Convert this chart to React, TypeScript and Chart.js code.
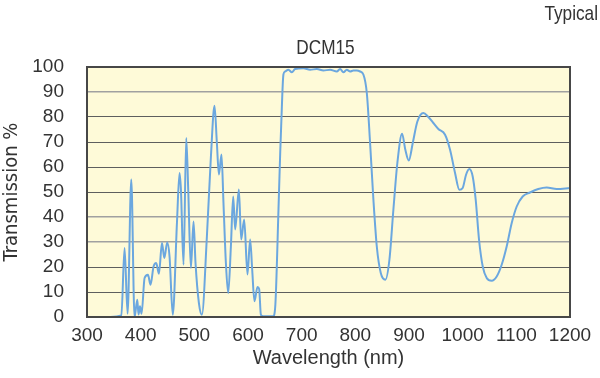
import React, { useEffect, useRef } from "react";
import { Chart, registerables } from "chart.js";

Chart.register(...registerables);

const TITLE = "DCM15";
const NOTE = "Typical";
const X_LABEL = "Wavelength (nm)";
const Y_LABEL = "Transmission %";

const X_MIN = 300;
const X_MAX = 1200;
const X_STEP = 100;
const Y_MIN = 0;
const Y_MAX = 100;
const Y_STEP = 10;
const LIGHT_GRID_VALUES = [90, 40, 30];

const wavelengths = [
  343, 364, 370, 375.6, 382.5, 388.6, 393.7, 396, 398.7, 401.7, 407.3, 413.6,
  418.4, 424, 429, 434, 439.7, 444, 449.5, 453.8, 459.8, 467.6, 472.4, 475,
  479.9, 484.9, 488.6, 493.6, 498.5, 502.2, 508.5, 514.1, 523.4, 530.9, 537.6,
  542, 545.8, 550.6, 554.3, 558.8, 563.1, 568.1, 572.4, 576.1, 583, 587.3,
  592.9, 599, 604, 607.8, 612, 617.7, 620.8, 624, 628.3, 646.9, 651, 656.8,
  660, 661.8, 666, 669, 675.4, 681.7, 687.9, 703.3, 715.8, 728.3, 740.6, 753,
  765.5, 771.6, 777.8, 784.1, 790.3, 796.4, 802.7, 808.9, 815, 821.4, 827.5,
  833.7, 840, 847.4, 856, 863.5, 870.9, 878.3, 887.1, 893.2, 899.6, 907,
  915.6, 926.8, 936, 945.4, 954.7, 967.2, 976.5, 985.8, 993.8, 1000, 1006.3,
  1012.4, 1018.7, 1024.3, 1030.5, 1037.4, 1044.8, 1054.1, 1063.4, 1072.7, 1082,
  1091.4, 1100.7, 1111.8, 1125.4, 1140.9, 1156.5, 1175.1, 1200,
];

const transmission = [
  0, 0.6, 27.6, 1.3, 55, 0, 6.9, 1, 4.3, 1.3, 15.6, 16.9,
  12.9, 20.2, 21.6, 17.3, 29.6, 23.6, 29.8, 24.2, 0.9, 37.6, 57.6, 51,
  20.9, 71.6, 51, 19.6, 38.2, 21.6, 5.6, 0.9, 32.2, 64.2, 84.5,
  69.6, 57, 65, 45.6, 21.6, 9.6, 28.2, 48.2, 35, 51, 31,
  39, 17, 31, 19, 6.3, 12, 11.2, 0.9, 0.3, 0.3, 5, 43,
  65.6, 76.3, 97, 98.2, 98.9, 97.9, 99.2, 99.5, 98.9, 99.2, 98.6, 98.9,
  98.2, 99.2, 97.9, 98.9, 98.2, 98.6, 98.6, 98.2, 97, 89.6, 69.6,
  46.9, 28.2, 17.6, 14.9, 22.9, 42.9, 61.6, 73.3, 66.9, 62.6, 69.6,
  78.2, 81.6, 80, 77.6, 75.2, 72.9, 66.9, 57.6, 50.9, 51.6, 56.9,
  59.2, 56.2, 46.9, 30.9, 20.2, 15.6, 14.5, 16.2, 20.9, 28.2,
  37.6, 44.2, 48.2, 49.8, 51.2, 51.8, 51.2, 51.6,
];

const CONDENSED = '"DejaVu Sans Condensed", "Liberation Sans", sans-serif';
const REGULAR = '"Liberation Sans", Arial, Helvetica, sans-serif';
const TEXT_COLOR = "#333333";

function drawNarrowText(ctx: any, text: string, x: number, y: number, align: string) {
  ctx.save();
  ctx.font = `21px ${REGULAR}`;
  ctx.textBaseline = "alphabetic";
  ctx.textAlign = align;
  ctx.fillStyle = TEXT_COLOR;
  ctx.translate(x, y);
  ctx.scale(0.82, 1);
  ctx.fillText(text, 0, 0);
  ctx.restore();
}

const framePlugin = {
  id: "frame",
  beforeDraw(chart: any) {
    const { ctx, chartArea } = chart;
    const { left, top, width, height } = chartArea;
    ctx.save();
    ctx.fillStyle = "#fefad8";
    ctx.fillRect(left, top, width, height);
    ctx.restore();
  },
  afterDraw(chart: any) {
    const { ctx, chartArea } = chart;
    const { left, top, width, height } = chartArea;
    ctx.save();
    ctx.strokeStyle = "#474747";
    ctx.lineWidth = 2;
    ctx.strokeRect(left, top, width, height);
    ctx.restore();
    drawNarrowText(ctx, NOTE, 598, 20, "right");
    drawNarrowText(ctx, TITLE, (left + chartArea.right) / 2 - 3, 54, "center");
  },
};

export default function App() {
  const canvasRef = useRef<HTMLCanvasElement | null>(null);

  useEffect(() => {
    const canvas = canvasRef.current;
    if (!canvas) return;
    const points = wavelengths.map((x, i) => ({ x, y: transmission[i] }));
    const chart = new Chart(canvas, {
      type: "line",
      data: {
        datasets: [
          {
            data: points,
            borderColor: "#6ba7df",
            borderWidth: 2,
            pointRadius: 0,
            cubicInterpolationMode: "monotone",
            fill: false,
          },
        ],
      },
      options: {
        animation: false,
        responsive: false,
        maintainAspectRatio: false,
        layout: { padding: { left: 0, right: 30, top: 67, bottom: 0 } },
        plugins: {
          legend: { display: false },
          tooltip: { enabled: false },
          title: { display: false },
        },
        scales: {
          x: {
            type: "linear",
            min: X_MIN,
            max: X_MAX,
            afterFit: (s: any) => {
              s.height = 61;
            },
            ticks: {
              stepSize: X_STEP,
              padding: 7,
              autoSkip: false,
              color: TEXT_COLOR,
              font: { family: REGULAR, size: 19 },
              maxRotation: 0,
              callback: (v: any) => String(v),
            },
            grid: { display: false, drawTicks: false },
            border: { display: false },
            title: {
              display: true,
              text: X_LABEL,
              color: TEXT_COLOR,
              font: { family: REGULAR, size: 20 },
              padding: { top: 0, bottom: 7.6 },
            },
          },
          y: {
            type: "linear",
            min: Y_MIN,
            max: Y_MAX,
            afterFit: (s: any) => {
              s.width = 87;
            },
            ticks: {
              stepSize: Y_STEP,
              padding: 23,
              autoSkip: false,
              color: TEXT_COLOR,
              font: { family: REGULAR, size: 19 },
              callback: (v: any) => String(v),
            },
            grid: {
              drawTicks: false,
              color: (c: any) =>
                LIGHT_GRID_VALUES.includes(c.tick?.value) ? "#a0a0a0" : "#5e5e5e",
              lineWidth: (c: any) =>
                LIGHT_GRID_VALUES.includes(c.tick?.value) ? 1.6 : 1,
            },
            border: { display: false },
            title: {
              display: true,
              text: Y_LABEL,
              color: TEXT_COLOR,
              font: { family: CONDENSED, size: 20 },
              padding: { top: 0, bottom: 0 },
            },
          },
        },
      },
      plugins: [framePlugin],
    });
    return () => chart.destroy();
  }, []);

  return (
    <div style={{ position: "fixed", left: 0, top: 0, width: 600, height: 378, background: "#ffffff" }}>
      <canvas ref={canvasRef} width={600} height={378} style={{ width: 600, height: 378, display: "block" }} />
    </div>
  );
}
